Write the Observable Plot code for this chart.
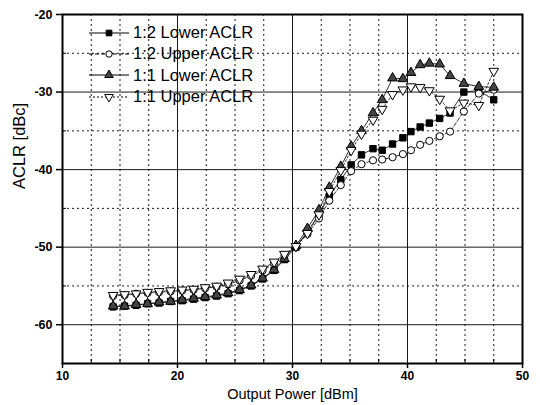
<!DOCTYPE html>
<html><head><meta charset="utf-8">
<script src="https://cdn.jsdelivr.net/npm/d3@7"></script>
<script src="https://cdn.jsdelivr.net/npm/@observablehq/plot@0.6"></script>
<style>
body{margin:0;background:#fff;}
#wrap{position:relative;width:540px;height:405px;}
#legend{position:absolute;left:88px;top:22px;font-family:"Liberation Sans",Arial,sans-serif;font-size:16.5px;color:#000;}
.row{display:flex;align-items:center;height:21.3px;}
.row svg{margin-right:3px;}
</style></head><body><div id="wrap"></div>
<script>
// ---- data ----
const outputPower = [14.4,15.4,16.4,17.4,18.4,19.4,20.4,21.4,22.4,23.4,24.4,25.4,26.4,27.4,28.4,29.3,30.3,31.3,32.3,33.2,34.2,35.1,36.0,37.0,37.8,38.7,39.6,40.3,41.1,41.9,42.8,43.7,44.9,46.2,47.5];
const lower12 = [-57.7,-57.6,-57.5,-57.3,-57.2,-57.0,-56.9,-56.7,-56.5,-56.3,-56.0,-55.6,-55.0,-54.1,-53.0,-51.6,-50.0,-48.0,-45.8,-43.4,-41.3,-39.4,-38.1,-37.3,-37.5,-36.7,-35.9,-35.1,-34.5,-34.0,-33.4,-32.7,-30.0,-29.8,-31.0];
const upper12 = [-56.3,-56.2,-56.0,-55.9,-55.8,-55.7,-55.6,-55.5,-55.3,-55.1,-54.8,-54.3,-53.7,-53.0,-52.1,-51.1,-49.9,-48.3,-46.3,-44.0,-42.0,-40.2,-39.3,-38.8,-38.7,-38.4,-38.0,-37.5,-36.8,-36.3,-35.7,-35.1,-32.5,-30.2,-29.7];
const lower11 = [-57.6,-57.6,-57.4,-57.3,-57.1,-57.0,-56.8,-56.6,-56.4,-56.2,-55.9,-55.5,-54.9,-54.0,-52.9,-51.5,-49.8,-47.6,-45.2,-42.3,-39.6,-37.0,-35.0,-32.7,-31.0,-28.2,-28.3,-27.5,-26.5,-26.3,-26.4,-27.9,-28.9,-29.3,-29.4];
const upper11 = [-56.2,-56.1,-56.0,-55.8,-55.7,-55.6,-55.5,-55.4,-55.2,-55.0,-54.6,-54.1,-53.5,-52.8,-51.9,-50.9,-49.9,-48.2,-45.8,-42.8,-40.1,-37.5,-35.4,-33.6,-32.2,-30.3,-29.7,-29.3,-29.4,-29.8,-30.9,-32.4,-31.4,-31.7,-27.3];
const seriesNames = ["1:2 Lower ACLR","1:2 Upper ACLR","1:1 Lower ACLR","1:1 Upper ACLR"];
const xMajorTicks = [10,20,30,40,50];
const yMajorTicks = [-60,-50,-40,-30,-20];
const xMinorTicks = [12.5,15,17.5,22.5,25,27.5,32.5,35,37.5,42.5,45,47.5];
const yMinorTicks = [-65,-55,-45,-35,-25];
const xLabel = "Output Power [dBm]";
const yLabel = "ACLR [dBc]";

// ---- styling ----
const triangleDown = {
  draw(context, size) {
    const y = -Math.sqrt(size / (Math.sqrt(3) * 3));
    const s = Math.sqrt(3);
    context.moveTo(0, -y * 2);
    context.lineTo(-s * y, y);
    context.lineTo(s * y, y);
    context.closePath();
  }
};
const styles = [
  {symbol: "square", fill: "#000", dash: null},
  {symbol: "circle", fill: "#fff", dash: "4,2"},
  {symbol: "triangle", fill: "#444", dash: null},
  {symbol: triangleDown, fill: "#fff", dash: "2,2"}
];
const valuesList = [lower12, upper12, lower11, upper11];
const font = '"Liberation Sans", Arial, sans-serif';

const seriesMarks = [];
valuesList.forEach((vals, i) => {
  const data = outputPower.map((x, j) => ({x, y: vals[j]}));
  seriesMarks.push(Plot.line(data, {x: "x", y: "y", stroke: "#000", strokeWidth: 0.8, strokeDasharray: styles[i].dash}));
});
valuesList.forEach((vals, i) => {
  const data = outputPower.map((x, j) => ({x, y: vals[j]}));
  seriesMarks.push(Plot.dot(data, {x: "x", y: "y", symbol: () => styles[i].symbol, r: 3.6, fill: styles[i].fill, stroke: "#000", strokeWidth: 1}));
});

const chart = Plot.plot({
  width: 540, height: 405,
  marginLeft: 62, marginRight: 18, marginTop: 14, marginBottom: 42,
  style: {fontFamily: font, background: "#fff"},
  x: {domain: [10, 50]},
  y: {domain: [-65, -20]},
  symbol: {type: "identity"},
  marks: [
    Plot.gridX(xMinorTicks, {stroke: "#000", strokeOpacity: 1, strokeWidth: 0.9, strokeDasharray: "2,3"}),
    Plot.gridY(yMinorTicks, {stroke: "#000", strokeOpacity: 1, strokeWidth: 0.9, strokeDasharray: "2,3"}),
    Plot.gridX(xMajorTicks, {stroke: "#000", strokeOpacity: 0.9, strokeWidth: 1}),
    Plot.gridY(yMajorTicks, {stroke: "#000", strokeOpacity: 0.9, strokeWidth: 1}),
    ...seriesMarks,
    Plot.frame({stroke: "#000", strokeWidth: 2}),
    Plot.axisX(xMajorTicks, {tickSize: 5, tickPadding: 3, fontSize: 12, fontWeight: "bold", tickFormat: d => String(d), label: null, strokeWidth: 1.5}),
    Plot.axisY(yMajorTicks, {tickSize: 6, tickPadding: 4, fontSize: 12.5, fontWeight: "bold", tickFormat: d => String(d), label: null, strokeWidth: 1.5}),
    Plot.axisX(xMinorTicks, {tickSize: -4, text: null, label: null}),
    Plot.axisY(yMinorTicks, {tickSize: -4, text: null, label: null}),
    Plot.text([xLabel], {frameAnchor: "bottom", dy: 35.5, fontSize: 14.5, fill: "#000"}),
    Plot.text([yLabel], {frameAnchor: "left", dx: -43, rotate: -90, fontSize: 16.5, fill: "#000"})
  ]
});
const wrap = document.getElementById("wrap");
wrap.appendChild(chart);

// legend overlay
const legend = document.createElement("div");
legend.id = "legend";
seriesNames.forEach((name, i) => {
  const row = document.createElement("div");
  row.className = "row";
  const svg = d3.create("svg").attr("width", 42).attr("height", 14);
  svg.append("line").attr("x1", 1).attr("x2", 41).attr("y1", 7).attr("y2", 7)
    .attr("stroke", "#000").attr("stroke-width", 1)
    .attr("stroke-dasharray", styles[i].dash);
  const sym = typeof styles[i].symbol === "string"
    ? {square: d3.symbolSquare, circle: d3.symbolCircle, triangle: d3.symbolTriangle}[styles[i].symbol]
    : styles[i].symbol;
  svg.append("path").attr("transform", "translate(21,7)")
    .attr("d", d3.symbol(sym, Math.PI * 3.2 * 3.2)())
    .attr("fill", styles[i].fill).attr("stroke", "#000");
  row.appendChild(svg.node());
  const span = document.createElement("span");
  span.textContent = name;
  row.appendChild(span);
  legend.appendChild(row);
});
wrap.appendChild(legend);
</script></body></html>
